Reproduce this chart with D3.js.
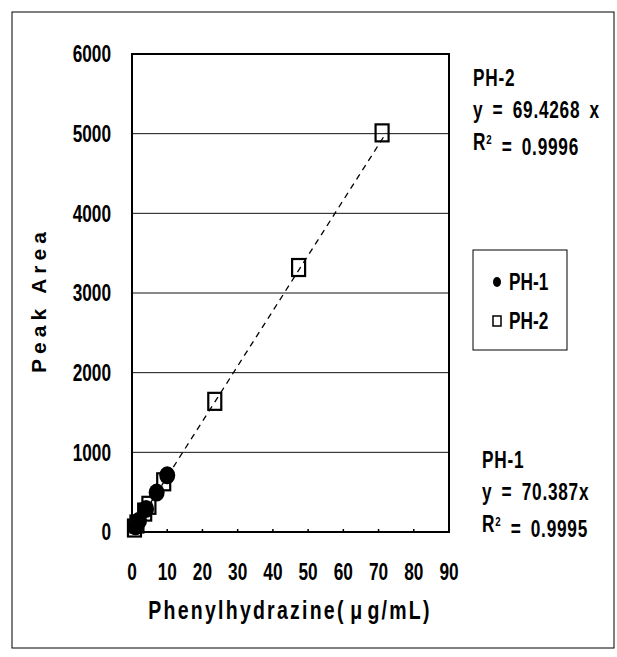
<!DOCTYPE html>
<html>
<head>
<meta charset="utf-8">
<script src="https://cdn.jsdelivr.net/npm/d3@7"></script>
<style>
  body { margin: 0; background: #fff; }
  text { font-family: "Liberation Sans", Arial, sans-serif; font-weight: bold; fill: #000; }
</style>
</head>
<body>
<svg width="617" height="657"></svg>
<script>
// data
const ph1X = [1, 2, 4, 7, 10];
const ph1Y = [72, 142, 290, 495, 712];
const ph2X = [0.7, 1.4, 3.6, 4.8, 9.0, 23.5, 47.3, 71];
const ph2Y = [50, 100, 250, 335, 630, 1640, 3320, 5010];
const xTicks = [0, 10, 20, 30, 40, 50, 60, 70, 80, 90];
const yTicks = [0, 1000, 2000, 3000, 4000, 5000, 6000];
const ph2Slope = 69.4268;

const svg = d3.select("svg");
const plotL = 132, plotR = 449, plotT = 54, plotB = 532;
const squeeze = 0.75;   // narrow look of the original font

const x = d3.scaleLinear().domain([0, 90]).range([plotL, plotR]);
const y = d3.scaleLinear().domain([0, 6000]).range([plotB, plotT]);

// text drawn with a horizontal squeeze
function label(px, py, str, size, anchor) {
    return svg.append("text")
        .attr("transform", `translate(${px},${py}) scale(${squeeze},1)`)
        .attr("dy", "0.36em")
        .attr("text-anchor", anchor || "start")
        .attr("font-size", size)
        .text(str);
}

// outer frame
svg.append("rect")
    .attr("x", 12).attr("y", 12).attr("width", 602).attr("height", 636)
    .attr("fill", "none").attr("stroke", "#000").attr("stroke-width", 1);

// gridlines
svg.append("g").selectAll("line")
    .data(yTicks.filter(d => d > 0 && d < 6000))
    .join("line")
    .attr("x1", plotL).attr("x2", plotR)
    .attr("y1", d => y(d)).attr("y2", d => y(d))
    .attr("stroke", "#111").attr("stroke-width", 1);

// y tick labels
yTicks.forEach(d => label(111, y(d), d, 23, "end"));

// x ticks (small marks inside) and labels
svg.append("g").selectAll("line")
    .data(xTicks.slice(1, -1))
    .join("line")
    .attr("x1", d => x(d)).attr("x2", d => x(d))
    .attr("y1", plotB).attr("y2", plotB - 3)
    .attr("stroke", "#000").attr("stroke-width", 1.5);

xTicks.forEach(d => label(x(d), 572, d, 23, "middle"));

// plot box
svg.append("rect")
    .attr("x", plotL).attr("y", plotT)
    .attr("width", plotR - plotL).attr("height", plotB - plotT)
    .attr("fill", "none").attr("stroke", "#000").attr("stroke-width", 2);

// trend line for PH-2
const xEnd = 5010 / ph2Slope;
svg.append("line")
    .attr("x1", x(0)).attr("y1", y(0))
    .attr("x2", x(xEnd)).attr("y2", y(ph2Slope * xEnd))
    .attr("stroke", "#000").attr("stroke-width", 1.3)
    .attr("stroke-dasharray", "6,5");

// PH-1 points
svg.append("g").selectAll("ellipse")
    .data(ph1X.map((v, i) => [v, ph1Y[i]]))
    .join("ellipse")
    .attr("cx", d => x(d[0])).attr("cy", d => y(d[1]))
    .attr("rx", 8).attr("ry", 9)
    .attr("fill", "#000");

// PH-2 points
svg.append("g").selectAll("rect")
    .data(ph2X.map((v, i) => [v, ph2Y[i]]))
    .join("rect")
    .attr("x", d => x(d[0]) - 6.5).attr("y", d => y(d[1]) - 8.5)
    .attr("width", 13).attr("height", 17)
    .attr("fill", "none").attr("stroke", "#000").attr("stroke-width", 2.2);

// axis titles
svg.append("text")
    .attr("transform", "translate(38,300) rotate(-90)")
    .attr("dy", "0.36em")
    .attr("text-anchor", "middle")
    .attr("font-size", 21)
    .attr("font-weight", "normal")
    .attr("letter-spacing", 5)
    .text("Peak Area");

const xTitle = label(290, 610, "", 26, "middle").attr("letter-spacing", 3);
xTitle.append("tspan").text("Phenylhydrazine(");
xTitle.append("tspan").attr("dx", 6).text("\u03bc");
xTitle.append("tspan").attr("dx", 4).text("g/mL)");

// regression annotations
function note(x0, y0, lines) {
    lines.forEach((t, i) => {
        const tx = label(x0, y0 + i * 32, "", 23)
            .attr("letter-spacing", 1)
            .attr("word-spacing", 5);
        if (t.startsWith("R")) {
            tx.append("tspan").text("R");
            tx.append("tspan").attr("dy", "-0.45em").attr("font-size", 13).text("2");
            tx.append("tspan").attr("dy", "0.45em").text(" " + t.slice(1));
        } else {
            tx.text(t);
        }
    });
}
note(473, 78, ["PH-2", "y = 69.4268 x", "R = 0.9996"]);
note(482, 460, ["PH-1", "y = 70.387x", "R = 0.9995"]);

// legend
svg.append("rect")
    .attr("x", 473).attr("y", 250).attr("width", 94).attr("height", 100)
    .attr("fill", "none").attr("stroke", "#000").attr("stroke-width", 1);
svg.append("ellipse")
    .attr("cx", 497).attr("cy", 282).attr("rx", 4).attr("ry", 5).attr("fill", "#000");
label(509, 282, "PH-1", 23);
svg.append("rect")
    .attr("x", 493).attr("y", 316).attr("width", 8).attr("height", 10)
    .attr("fill", "none").attr("stroke", "#000").attr("stroke-width", 1.5);
label(509, 321, "PH-2", 23);
</script>
</body>
</html>
